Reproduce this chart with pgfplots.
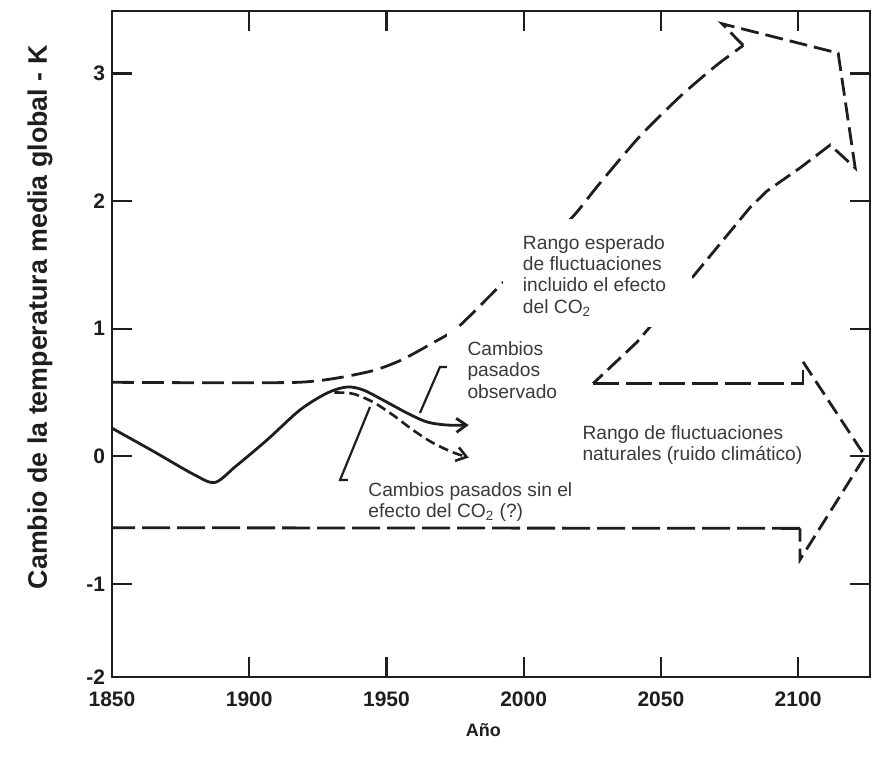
\documentclass[border=0pt]{standalone}
\usepackage{fontspec}
\setmainfont{Liberation Sans}
\usepackage{pgfplots}
\pgfplotsset{compat=1.18}
\usetikzlibrary{arrows.meta}
\definecolor{ink}{HTML}{1E1E1E}
\definecolor{note}{HTML}{3A3A3A}
\begin{document}
\begin{tikzpicture}
\path[use as bounding box] (-56pt,-39.5pt) rectangle (385.5pt,338.5pt);
\begin{axis}[
  scale only axis, width=379pt, height=333pt,
  xmin=1850, xmax=2126.2, ymin=-1.73, ymax=3.49,
  xtick={1850,1900,1950,2000,2050,2100},
  ytick={-1.73,-1,0,1,2,3},
  yticklabels={-2,-1,0,1,2,3},
  tick align=inside, major tick length=10pt,
  tick style={line width=1.1pt, ink},
  axis line style={line width=1.4pt, ink},
  /pgf/number format/1000 sep={},
  /pgf/number format/assume math mode=true,
  tick label style={font=\bfseries\fontsize{10.5}{12}\selectfont, text=ink},
  x tick label style={yshift=-4pt},
  xlabel={Año},
  ylabel={Cambio de la temperatura media global - K},
  xlabel style={font=\bfseries\fontsize{9}{11}\selectfont, text=ink, at={(axis description cs:0.49,0)}, anchor=center, yshift=-26.5pt},
  ylabel style={font=\bfseries\fontsize{13.4}{15}\selectfont, text=ink, at={(axis description cs:-0.095,0.54)}, anchor=center},
  clip=false,
]
% observed past changes
\addplot[ink, line width=1.4pt, smooth, tension=0.5, -{Straight Barb[length=5pt,width=7pt]}] coordinates {
 (1850,0.22) (1865,0.04) (1880,-0.145) (1887.5,-0.205) (1895,-0.08) (1906.5,0.128) (1918.5,0.363)
 (1928.4,0.496) (1935.6,0.543) (1941.5,0.52) (1948.8,0.44) (1957.5,0.339) (1964.8,0.269) (1972,0.245) (1980,0.245)};
% past changes without CO2
\addplot[ink, line width=1.3pt, smooth, tension=0.5, dash pattern=on 5pt off 2.5pt, -{Straight Barb[length=5pt,width=7pt]}] coordinates {
 (1931,0.50) (1937.8,0.49) (1945.1,0.425) (1952.4,0.323) (1959.7,0.205) (1967,0.104) (1974.3,0.03) (1980,-0.01)};
% upper bound with CO2
\addplot[ink, line width=1.4pt, smooth, tension=0.4, dash pattern=on 11pt off 4pt] coordinates {
 (1850,0.58) (1918,0.58) (1943,0.66) (1955,0.75) (1967,0.89) (1976,1.01) (1992.5,1.36) (2002,1.54)
 (2018,1.88) (2027,2.12) (2042,2.50) (2057,2.82) (2070,3.06) (2080,3.22)};
% arrow head and lower bound with CO2
\addplot[ink, line width=1.4pt, dash pattern=on 9pt off 3.5pt] coordinates {
 (2080,3.22) (2072.3,3.39) (2114.6,3.16) (2120.8,2.26) (2111.7,2.44) (2100.7,2.26) (2088.7,2.08)
 (2082.5,1.95) (2061.4,1.40) (2041.3,0.895) (2025.3,0.57)};
% natural fluctuation band with chevron
\addplot[ink, line width=1.4pt, dash pattern=on 13pt off 3.5pt] coordinates {
 (2025.3,0.57) (2101.8,0.57) (2101.8,0.74)};
\addplot[ink, line width=1.4pt, dash pattern=on 8pt off 3.5pt] coordinates {
 (2101.8,0.74) (2124.4,0.0) (2100.7,-0.81) (2100.7,-0.565)};
\addplot[ink, line width=1.4pt, dash pattern=on 14pt off 3.5pt] coordinates {
 (2100.7,-0.565) (1850,-0.56)};
% pointer lines
\addplot[ink, line width=1.1pt] coordinates {(1962.2,0.339) (1969.5,0.70) (1972.8,0.70)};
\addplot[ink, line width=1.1pt] coordinates {(1944.0,0.386) (1933.1,-0.186) (1936.0,-0.186)};
% label boxes
\fill[white] (axis cs:1992.5,1.858) rectangle (axis cs:2061.4,1.0125);
\node[anchor=north west, inner sep=0pt, align=left, text=note, font=\fontsize{9.6}{10.6}\selectfont]
  at (axis cs:1999.6,1.733) {Rango esperado\\de fluctuaciones\\incluido el efecto\\del CO\textsubscript{2}};
\fill[white] (axis cs:1972.1,1.0125) rectangle (axis cs:2018.7,0.363);
\node[anchor=north west, inner sep=0pt, align=left, text=note, font=\fontsize{9.6}{10.8}\selectfont]
  at (axis cs:1979.4,0.903) {Cambios\\pasados\\observado};
\fill[white] (axis cs:1936.0,-0.084) rectangle (axis cs:2030.8,-0.54);
\node[anchor=north west, inner sep=0pt, align=left, text=note, font=\fontsize{9.6}{10.4}\selectfont]
  at (axis cs:1943.3,-0.201) {Cambios pasados sin el\\efecto del CO\textsubscript{2} (?)};
\fill[white] (axis cs:2015.5,0.402) rectangle (axis cs:2100.5,-0.186);
\node[anchor=north west, inner sep=0pt, align=left, text=note, font=\fontsize{9.6}{10.6}\selectfont]
  at (axis cs:2021.3,0.245) {Rango de fluctuaciones\\naturales (ruido climático)};
\end{axis}
\end{tikzpicture}
\end{document}
